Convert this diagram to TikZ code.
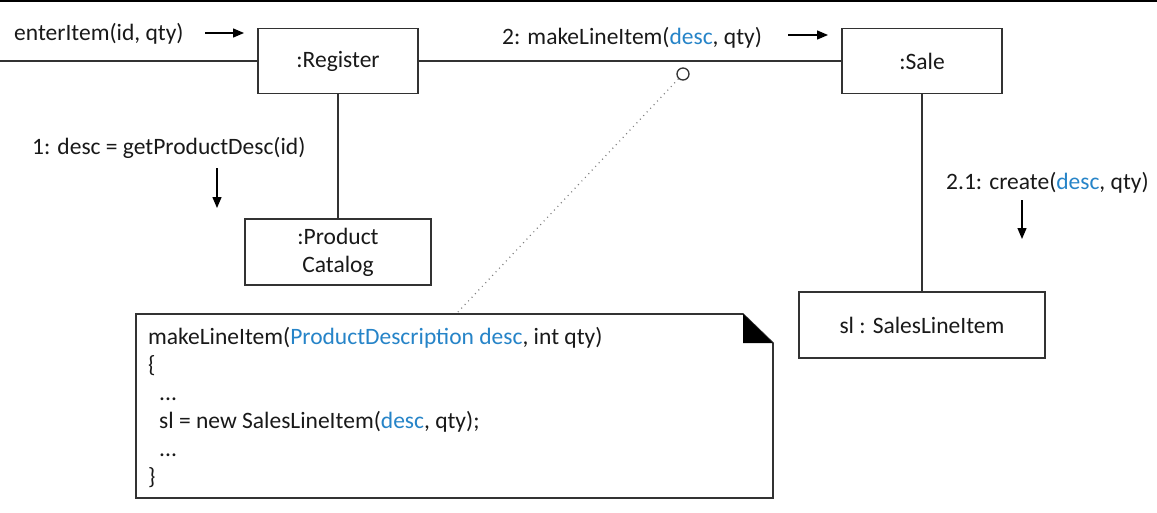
\documentclass[tikz,border=0pt]{standalone}
\usepackage{fontspec}
\setmainfont{Carlito}
\usetikzlibrary{arrows.meta}
\definecolor{bl}{RGB}{38,132,200}
\definecolor{ln}{RGB}{50,50,50}
\definecolor{tx}{RGB}{25,25,25}
\begin{document}
\begin{tikzpicture}[x=1pt,y=-1pt,
  obj/.style={draw=ln,line width=1.6pt,fill=white,inner sep=0pt,align=center,font=\fontsize{23.5}{28}\selectfont,text=tx},
  lbl/.style={anchor=base west,inner sep=0pt,font=\fontsize{23.5}{28}\selectfont,text=tx},
  link/.style={draw=ln,line width=1.6pt},
  msg/.style={draw=black,line width=1.3pt,-{Triangle[length=11pt,width=9pt]}}]
\useasboundingbox (0,0) rectangle (1157,512);
\draw[line width=2.6pt] (0,1) -- (1157,1);
% objects
\node[obj,minimum width=160pt,minimum height=65pt] (reg) at (338,61) {:Register};
\node[obj,minimum width=160pt,minimum height=65pt] (sale) at (922,61) {:Sale};
\node[obj,minimum width=186pt,minimum height=66pt] (cat) at (338,252) {:Product\\Catalog};
\node[obj,minimum width=246pt,minimum height=66pt] (sl) at (922,325) {sl : SalesLineItem};
\coordinate (in) at (0,61);
\draw[link] (in) -- (reg.west);
\draw[link] (reg.east) -- (sale.west);
\draw[link] (reg.south) -- (cat.north);
\draw[link] (sale.south) -- (sl.north);
% messages
\node[lbl] (m0) at (14,40) {enterItem(id, qty)};
\coordinate (a0s) at (205,33); \coordinate (a0e) at (244,33);
\draw[msg] (a0s) -- (a0e);
\node[lbl] (m2) at (502,44) {2: makeLineItem(\textcolor{bl}{desc}, qty)};
\coordinate (a2s) at (788,35); \coordinate (a2e) at (828,35);
\draw[msg] (a2s) -- (a2e);
\node[lbl] (m1) at (32,154) {1: desc = getProductDesc(id)};
\coordinate (a1s) at (217,168); \coordinate (a1e) at (217,208);
\draw[msg] (a1s) -- (a1e);
\node[lbl] (m21) at (946,189) {2.1: create(\textcolor{bl}{desc}, qty)};
\coordinate (a21s) at (1022,200); \coordinate (a21e) at (1022,239);
\draw[msg] (a21s) -- (a21e);
% note
\draw[draw=ln,line width=1.6pt,fill=white] (136,314) -- (743,314) -- (773,343) -- (773,498) -- (136,498) -- cycle;
\fill[black] (743,314) -- (773,343) -- (743,343) -- cycle;
\node[lbl] (n1) at (148,344) {makeLineItem(\textcolor{bl}{ProductDescription desc}, int qty)};
\node[lbl] (n2) at (148,372) {\{};
\node[lbl] (n3) at (159,400) {...};
\node[lbl] (n4) at (159,428) {sl = new SalesLineItem(\textcolor{bl}{desc}, qty);};
\node[lbl] (n5) at (159,456) {...};
\node[lbl] (n6) at (148,484) {\}};
\coordinate (nt) at (458,312);
\node[circle,draw=ln,line width=1.3pt,fill=white,minimum size=12pt,inner sep=0pt] (c) at (683,74) {};
\draw[gray,line width=1.2pt,dash pattern=on 1pt off 4pt] (c) -- (nt);
\end{tikzpicture}
\end{document}
